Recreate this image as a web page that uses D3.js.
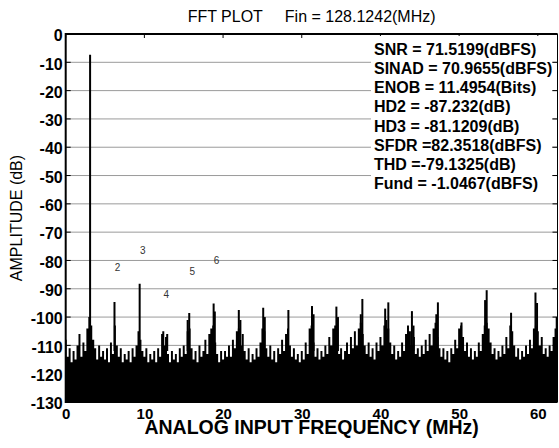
<!DOCTYPE html>
<html>
<head>
<meta charset="utf-8">
<script src="https://cdn.jsdelivr.net/npm/d3@7"></script>
<style>
  body { margin: 0; background: #fff; }
  text { font-family: "Liberation Sans", Arial, sans-serif; }
  .tick text { font-weight: bold; }
</style>
</head>
<body>
<svg id="chart" width="559" height="448"></svg>
<script>
// axis ticks
const xTicks = [0, 10, 20, 30, 40, 50, 60];
const yTicks = [0, -10, -20, -30, -40, -50, -60, -70, -80, -90, -100, -110, -120, -130];

// noise floor top edge, one value per 0.25 MHz bin (0 .. 62.5 MHz)
const noiseStep = 0.25;
const noiseTop = [
  -108,-114,-111,-116,-112,-115,-110,-106,-114,-109,-112,-104,-100,-103,-108,-111,-115,-110,-114,-112,
  -115,-111,-116,-109,-113,-103,-110,-114,-111,-116,-113,-115,-112,-116,-111,-114,-110,-105,-108,-112,
  -114,-111,-116,-113,-115,-112,-116,-111,-114,-106,-110,-107,-113,-116,-112,-115,-113,-116,-111,-114,
  -110,-113,-105,-104,-111,-115,-112,-116,-110,-114,-112,-108,-113,-106,-104,-103,-109,-113,-116,-112,
  -115,-112,-114,-110,-114,-108,-111,-105,-104,-110,-106,-112,-115,-111,-116,-113,-115,-111,-114,-109,
  -104,-105,-111,-114,-110,-115,-112,-116,-111,-113,-108,-112,-106,-104,-110,-114,-111,-115,-113,-116,
  -112,-115,-109,-113,-104,-103,-109,-114,-111,-115,-112,-114,-110,-113,-107,-110,-104,-103,-108,-113,
  -111,-115,-112,-109,-113,-107,-111,-105,-110,-104,-102,-106,-110,-113,-109,-114,-111,-115,-109,-112,
  -107,-110,-103,-101,-104,-109,-113,-110,-115,-112,-114,-109,-112,-106,-103,-105,-110,-107,-113,-111,
  -114,-110,-113,-108,-112,-106,-110,-104,-102,-107,-111,-114,-111,-115,-112,-116,-111,-113,-108,-111,
  -104,-103,-107,-112,-109,-114,-111,-115,-112,-114,-109,-112,-106,-103,-102,-104,-109,-113,-111,-115,
  -112,-114,-110,-113,-107,-111,-103,-105,-110,-114,-111,-115,-112,-114,-110,-113,-108,-111,-104,-103,
  -105,-110,-107,-113,-111,-114,-110,-112,-107,-104,-103
];

// spurs / harmonics (MHz, dB)
const spurFreq = [3.1, 6.2, 9.4, 12.4, 12.9, 15.5, 15.7, 18.8, 18.95, 22.0, 22.2, 25.1, 25.3, 28.3, 31.3, 31.5,
                  34.4, 34.6, 37.5, 37.7, 40.6, 41.0, 44.0, 44.2, 47.1, 47.3, 50.3, 53.3, 53.5, 56.6, 59.7, 59.9, 62.4];
const spurDb   = [-7.3, -94.7, -88.2, -105, -106, -101, -98.6, -95.2, -98, -97.5, -101, -96.7, -100, -97.5, -96.1, -99,
                  -96.3, -100, -99, -93.6, -97, -94.8, -97.9, -103, -99, -94.8, -101.9, -94, -90.5, -98.5, -91.3, -95, -100];

// harmonic index labels
const harmLabels = ["2", "3", "4", "5", "6"];
const harmFreq = [6.2, 9.4, 12.4, 15.7, 18.8];
const harmLabelDb = [-82.5, -76.5, -92, -84, -80];

const statsLines = [
  "SNR = 71.5199(dBFS)",
  "SINAD = 70.9655(dBFS)",
  "ENOB = 11.4954(Bits)",
  "HD2 = -87.232(dB)",
  "HD3 = -81.1209(dB)",
  "SFDR =82.3518(dBFS)",
  "THD =-79.1325(dB)",
  "Fund = -1.0467(dBFS)"
];
const titleText = "FFT PLOT     Fin = 128.1242(MHz)";

var svg = d3.select("#chart"),
    pLeft = 65.7, pRight = 557.5, pTop = 34, pBottom = 402;

var x = d3.scaleLinear().domain([0, 62.5]).range([pLeft, pRight]);
var y = d3.scaleLinear().domain([-130, 0]).range([pBottom, pTop]);

svg.append("defs").append("clipPath").attr("id", "plot")
  .append("rect").attr("x", pLeft).attr("y", pTop)
  .attr("width", pRight - pLeft).attr("height", pBottom - pTop);

// grid
svg.append("g").selectAll("line")
  .data(yTicks.filter(d => d !== 0 && d !== -130))
  .enter().append("line")
  .attr("x1", pLeft).attr("x2", pRight)
  .attr("y1", d => y(d)).attr("y2", d => y(d))
  .attr("stroke", "#9a9a9a").attr("stroke-width", 1);

// inner ticks
var ticks = svg.append("g").attr("stroke", "#000").attr("stroke-width", 1);
yTicks.forEach(function(d) {
  ticks.append("line").attr("x1", pLeft).attr("x2", pLeft + 5).attr("y1", y(d)).attr("y2", y(d));
  ticks.append("line").attr("x1", pRight - 5).attr("x2", pRight).attr("y1", y(d)).attr("y2", y(d));
});
xTicks.forEach(function(d) {
  ticks.append("line").attr("x1", x(d)).attr("x2", x(d)).attr("y1", pTop).attr("y2", pTop + 4);
});

// spectrum
var spec = svg.append("g").attr("clip-path", "url(#plot)");

var area = d3.area()
  .x((d, i) => x(i * noiseStep))
  .y0(y(-130))
  .y1(d => y(d))
  .curve(d3.curveStep);

spec.append("path").datum(noiseTop)
  .attr("d", area)
  .attr("fill", "#000");

spec.selectAll(".spur")
  .data(spurFreq)
  .enter().append("line")
  .attr("class", "spur")
  .attr("x1", d => x(d)).attr("x2", d => x(d))
  .attr("y1", y(-112))
  .attr("y2", (d, i) => y(spurDb[i]))
  .attr("stroke", "#000")
  .attr("stroke-width", 2);

// harmonic numbers
svg.append("g").selectAll("text")
  .data(harmLabels)
  .enter().append("text")
  .attr("x", (d, i) => x(harmFreq[i]) + 3)
  .attr("y", (d, i) => y(harmLabelDb[i]))
  .attr("dy", "0.35em")
  .attr("text-anchor", "middle")
  .style("font-size", "10px")
  .attr("fill", "#333")
  .text(d => d);

// frame
svg.append("line").attr("x1", pLeft).attr("x2", pRight).attr("y1", pTop).attr("y2", pTop)
  .attr("stroke", "#000").attr("stroke-width", 2);
svg.append("line").attr("x1", pLeft).attr("x2", pRight).attr("y1", pBottom).attr("y2", pBottom)
  .attr("stroke", "#000").attr("stroke-width", 2);
svg.append("line").attr("x1", pLeft).attr("x2", pLeft).attr("y1", pTop - 1).attr("y2", pBottom + 1)
  .attr("stroke", "#000").attr("stroke-width", 2);
svg.append("line").attr("x1", pRight).attr("x2", pRight).attr("y1", pTop).attr("y2", pBottom)
  .attr("stroke", "#000").attr("stroke-width", 1);

// stats box
svg.append("rect")
  .attr("x", 371).attr("y", pTop + 2)
  .attr("width", 181).attr("height", 158)
  .attr("fill", "#fff");

svg.append("g").selectAll("text")
  .data(statsLines)
  .enter().append("text")
  .attr("x", 374)
  .attr("y", (d, i) => 55 + i * 19.14)
  .style("font-size", "16px")
  .style("font-weight", "bold")
  .text(d => d);

// axes labels
var yAxis = svg.append("g")
  .attr("transform", "translate(" + pLeft + ",0)")
  .call(d3.axisLeft(y).tickValues(yTicks).tickSize(0).tickPadding(3).tickFormat(d => String(d)))
  .attr("font-family", "Liberation Sans, Arial, sans-serif")
  .attr("font-size", 16)
  .attr("font-weight", "bold");
yAxis.select(".domain").remove();
yAxis.selectAll("text")
  .attr("dy", "0.42em")
  .attr("fill", "#000");

var xAxis = svg.append("g")
  .attr("transform", "translate(0," + pBottom + ")")
  .call(d3.axisBottom(x).tickValues(xTicks).tickSize(0).tickPadding(6).tickFormat(d => String(d)))
  .attr("font-family", "Liberation Sans, Arial, sans-serif")
  .attr("font-size", 15)
  .attr("font-weight", "bold");
xAxis.select(".domain").remove();
xAxis.selectAll("text")
  .attr("fill", "#000");

svg.append("text")
  .attr("x", (pLeft + pRight) / 2).attr("y", 22)
  .attr("text-anchor", "middle")
  .style("font-size", "16px")
  .style("white-space", "pre")
  .text(titleText);

svg.append("text")
  .attr("transform", "translate(21.5,218) rotate(-90)")
  .attr("text-anchor", "middle")
  .style("font-size", "16px")
  .text("AMPLITUDE (dB)");

svg.append("text")
  .attr("x", (pLeft + pRight) / 2).attr("y", 434)
  .attr("text-anchor", "middle")
  .style("font-size", "19.5px")
  .style("font-weight", "bold")
  .text("ANALOG INPUT FREQUENCY (MHz)");
</script>
</body>
</html>
